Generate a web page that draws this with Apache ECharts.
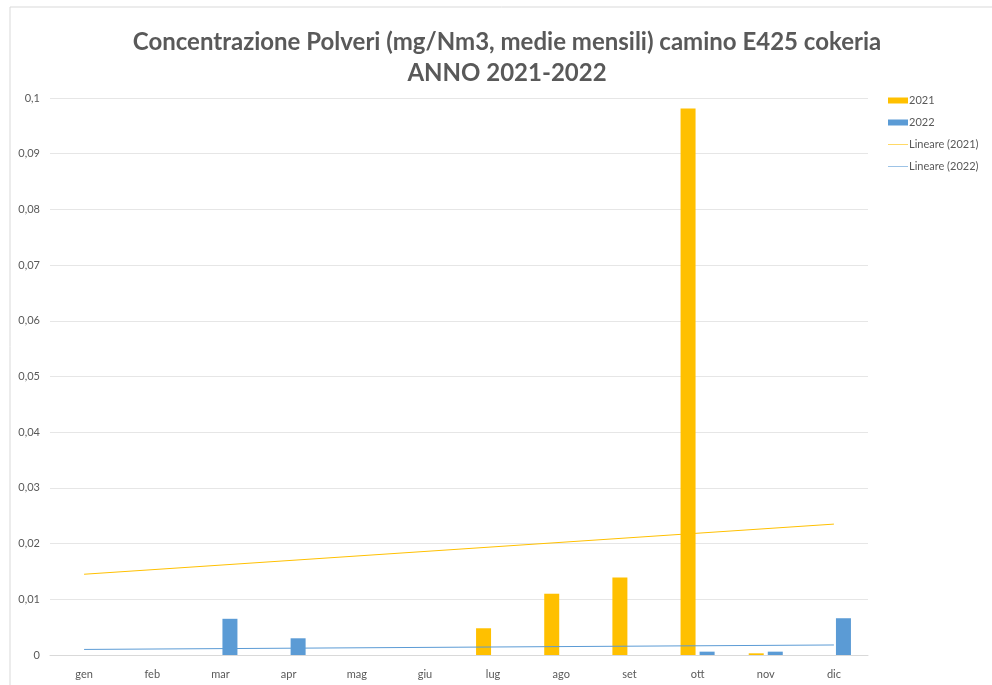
<!DOCTYPE html>
<html>
<head>
<meta charset="utf-8">
<script src="https://cdn.jsdelivr.net/npm/echarts@6/dist/echarts.min.js"></script>
<style>
  html, body { margin: 0; padding: 0; background: #fff; }
  #chart { width: 992px; height: 685px; }
</style>
</head>
<body>
<div id="chart"></div>
<script>
// mesi
const months = ["gen", "feb", "mar", "apr", "mag", "giu", "lug", "ago", "set", "ott", "nov", "dic"];

// medie mensili (mg/Nm3)
const values2021 = [0, 0, 0, 0, 0, 0, 0.0048, 0.011, 0.0139, 0.0981, 0.0003, 0];
const values2022 = [0, 0, 0.0065, 0.003, 0, 0, 0, 0, 0, 0.0006, 0.0006, 0.0066];

// linee di tendenza (estremi)
const trend2021 = [["gen", 0.0145], ["dic", 0.0235]];
const trend2022 = [["gen", 0.001], ["dic", 0.0018]];

const yTicks = [0, 0.01, 0.02, 0.03, 0.04, 0.05, 0.06, 0.07, 0.08, 0.09, 0.1];

var dom = document.getElementById("chart");
var myChart = echarts.init(dom);

var labelColor = "#595959";
var font = "Lato, 'Open Sans', sans-serif";
var lineIcon = "path://M0,0 L20,0 L20,1 L0,1 Z";

var option = {
  animation: false,
  title: {
    text: "Concentrazione Polveri (mg/Nm3, medie mensili) camino E425 cokeria\nANNO 2021-2022",
    left: 502,
    textAlign: "center",
    top: 22,
    textStyle: {
      fontFamily: font,
      fontSize: 24,
      fontWeight: "bold",
      color: "#595959",
      lineHeight: 31,
    },
  },
  graphic: [
    {
      type: "rect",
      shape: { x: 10, y: 7, width: 1000, height: 700 },
      style: { fill: "none", stroke: "#d9d9d9", lineWidth: 1 },
      silent: true,
    },
  ],
  legend: {
    orient: "vertical",
    left: 883,
    top: 90,
    itemGap: 11,
    itemWidth: 20,
    itemHeight: 6,
    textStyle: { fontFamily: font, fontSize: 11, color: labelColor, padding: [0, 0, 0, -4] },
    data: [
      { name: "2021", icon: "rect" },
      { name: "2022", icon: "rect" },
      { name: "Lineare (2021)", icon: lineIcon, itemStyle: { color: "#FFD966" } },
      { name: "Lineare (2022)", icon: lineIcon, itemStyle: { color: "#9DC3E6" } },
    ],
  },
  grid: {
    left: 50,
    right: 124,
    top: 98,
    bottom: 30,
  },
  xAxis: {
    type: "category",
    data: months,
    axisLine: { lineStyle: { color: "#d9d9d9" } },
    axisTick: { show: false },
    axisLabel: { fontFamily: font, fontSize: 11, color: labelColor, margin: 14 },
  },
  yAxis: {
    type: "value",
    min: 0,
    max: 0.1,
    interval: 0.01,
    axisLine: { show: false },
    axisTick: { show: false },
    splitLine: { lineStyle: { color: "#e6e6e6" } },
    axisLabel: {
      fontFamily: font,
      fontSize: 11,
      color: labelColor,
      margin: 10,
      formatter: function (value) {
        var match = yTicks.find(function (t) { return Math.abs(t - value) < 1e-9; });
        var v = match !== undefined ? match : value;
        return String(+v.toFixed(2)).replace(".", ",");
      },
    },
  },
  series: [
    {
      name: "2021",
      type: "bar",
      data: values2021,
      barWidth: 15,
      barGap: "27%",
      itemStyle: { color: "#FFC000" },
    },
    {
      name: "2022",
      type: "bar",
      data: values2022,
      barWidth: 15,
      itemStyle: { color: "#5B9BD5" },
    },
    {
      name: "Lineare (2021)",
      type: "line",
      data: trend2021,
      symbol: "none",
      lineStyle: { color: "#FFC000", width: 1 },
      itemStyle: { color: "#FFC000" },
      z: 3,
    },
    {
      name: "Lineare (2022)",
      type: "line",
      data: trend2022,
      symbol: "none",
      lineStyle: { color: "#5B9BD5", width: 1 },
      itemStyle: { color: "#5B9BD5" },
      z: 3,
    },
  ],
};

myChart.setOption(option, true);
</script>
</body>
</html>
